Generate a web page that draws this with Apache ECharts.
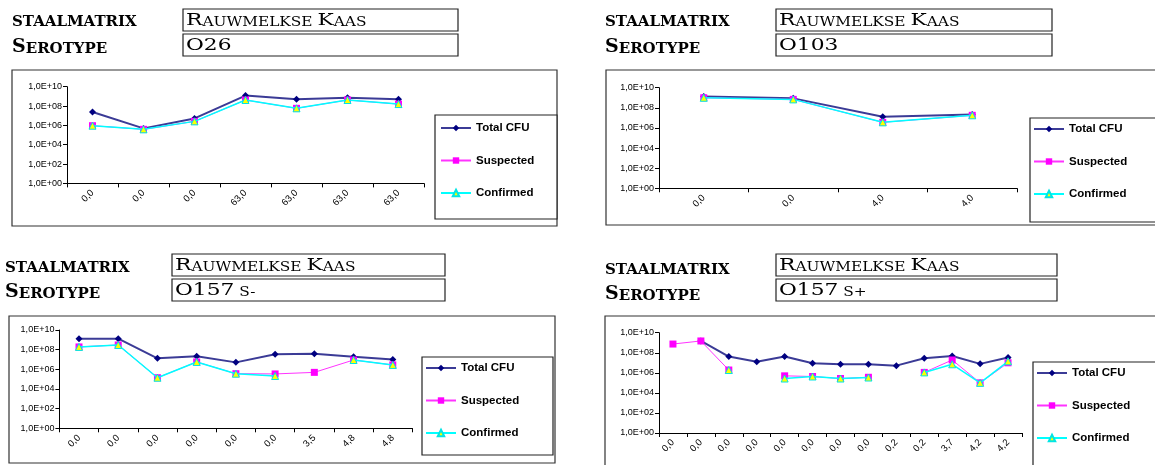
<!DOCTYPE html>
<html><head><meta charset="utf-8">
<script src="https://cdn.jsdelivr.net/npm/echarts@6/dist/echarts.min.js"></script>
<style>html,body{margin:0;padding:0;background:#fff}#c{width:1155px;height:465px}</style>
</head><body><div id="c"></div>
<script>
// ---------------- DATA ----------------
const SERIES_NAMES = ['Total CFU', 'Suspected', 'Confirmed'];
const LABEL_MATRIX = 'staalmatrix';
const LABEL_SEROTYPE = 'Serotype';
const MATRIX = 'Rauwmelkse Kaas';
const SEROTYPES = ['O26', 'O103', 'O157 s-', 'O157 s+'];
const Y_TICK_LABELS = ['1,0E+00', '1,0E+02', '1,0E+04', '1,0E+06', '1,0E+08', '1,0E+10'];

// Panel 1 – O26
const P1_CATS = ['0,0', '0,0', '0,0', '63,0', '63,0', '63,0', '63,0'];
const P1_TOTAL = [2.4e7, 4.9e5, 5.2e6, 1.2e9, 4.9e8, 7.2e8, 4.9e8];
const P1_SUSP = [9.3e5, 3.9e5, 2.6e6, 4.2e8, 5.8e7, 4.2e8, 1.6e8];
const P1_CONF = [9.3e5, 3.9e5, 2.6e6, 4.2e8, 5.8e7, 4.2e8, 1.6e8];

// Panel 2 – O103
const P2_CATS = ['0,0', '0,0', '4,0', '4,0'];
const P2_TOTAL = [1.3e9, 8.7e8, 1.3e7, 2.2e7];
const P2_SUSP = [1.0e9, 6.9e8, 3.6e6, 1.8e7];
const P2_CONF = [1.0e9, 6.9e8, 3.6e6, 1.8e7];

// Panel 3 – O157 s-
const P3_CATS = ['0,0', '0,0', '0,0', '0,0', '0,0', '0,0', '3,5', '4,8', '4,8'];
const P3_TOTAL = [1.3e9, 1.3e9, 1.3e7, 2.1e7, 5.1e6, 3.4e7, 3.9e7, 1.9e7, 1.0e7];
const P3_SUSP = [1.9e8, 3.0e8, 1.4e5, 5.6e6, 3.6e5, 3.4e5, 4.9e5, 8.9e6, 2.8e6];
const P3_CONF = [1.9e8, 3.0e8, 1.4e5, 5.6e6, 3.6e5, 2.1e5, null, 8.9e6, 2.8e6];

// Panel 4 – O157 s+
const P4_CATS = ['0,0', '0,0', '0,0', '0,0', '0,0', '0,0', '0,0', '0,0', '0,2', '0,2', '3,7', '4,2', '4,2'];
const P4_TOTAL = [null, 1.5e9, 4.2e7, 1.3e7, 4.2e7, 8.9e6, 7.1e6, 7.1e6, 5.2e6, 2.8e7, 4.8e7, 7.8e6, 3.3e7];
const P4_SUSP = [7.4e8, 1.5e9, 1.9e6, null, 5.0e5, 4.3e5, 2.7e5, 3.6e5, null, 1.1e6, 1.9e7, 1.0e5, 1.0e7];
const P4_CONF = [null, null, 1.9e6, null, 2.7e5, 4.3e5, 2.7e5, 3.4e5, null, 1.1e6, 7.1e6, 1.0e5, 1.4e7];

// ---------------- LAYOUT ----------------
const PANELS = [
  { cats: P1_CATS, data: [P1_TOTAL, P1_SUSP, P1_CONF], sero: SEROTYPES[0],
    lab: [12, 20, 46], box: [183, 9, 275, 22, 34], frame: [12, 70, 545, 156],
    grid: [67, 86.7, 357, 96.7], legBox: [435, 115, 122, 104], leg: [440, 128] },
  { cats: P2_CATS, data: [P2_TOTAL, P2_SUSP, P2_CONF], sero: SEROTYPES[1],
    lab: [605, 20, 46], box: [776, 9, 276, 22, 34], frame: [606, 70, 560, 155],
    grid: [659, 87.7, 358, 100.6], legBox: [1030, 118, 130, 104], leg: [1033, 129] },
  { cats: P3_CATS, data: [P3_TOTAL, P3_SUSP, P3_CONF], sero: SEROTYPES[2],
    lab: [5, 266, 291], box: [172, 254, 273, 22, 279], frame: [9, 316, 546, 147],
    grid: [59.4, 330, 353, 98.3], legBox: [422, 357, 131, 98], leg: [425, 368] },
  { cats: P4_CATS, data: [P4_TOTAL, P4_SUSP, P4_CONF], sero: SEROTYPES[3],
    lab: [605, 268, 293], box: [776, 254, 281, 22, 279], frame: [605, 316, 560, 160],
    grid: [659, 332.7, 363, 100.3], legBox: [1033, 362, 130, 110], leg: [1036, 373] }
];

// small-caps emulation: capitals/digits large, lowercase -> small capitals
function smallCaps(str) {
  let out = '', cur = null, buf = '';
  for (const ch of str) {
    const big = /[A-Z0-9]/.test(ch);
    const k = big ? 'b' : 's';
    if (k !== cur) { if (buf) out += '{' + cur + '|' + buf + '}'; buf = ''; cur = k; }
    buf += ch.toUpperCase();
  }
  if (buf) out += '{' + cur + '|' + buf + '}';
  return out;
}

const labelRich = {
  b: { fontFamily: 'DejaVu Serif', fontWeight: 'bold', fontSize: 19, fill: '#000', verticalAlign: 'bottom' },
  s: { fontFamily: 'DejaVu Serif', fontWeight: 'bold', fontSize: 15, fill: '#000', verticalAlign: 'bottom' }
};
const boxRich = {
  b: { fontFamily: 'DejaVu Serif', fontSize: 17, fill: '#000', verticalAlign: 'bottom' },
  s: { fontFamily: 'DejaVu Serif', fontSize: 12, fill: '#000', verticalAlign: 'bottom' }
};

const graphics = [];
PANELS.forEach(p => {
  graphics.push({ type: 'rect', silent: true, shape: { x: p.frame[0], y: p.frame[1], width: p.frame[2], height: p.frame[3] },
    style: { fill: 'none', stroke: '#333', lineWidth: 1.2 } });
  graphics.push({ type: 'rect', silent: true, shape: { x: p.legBox[0], y: p.legBox[1], width: p.legBox[2], height: p.legBox[3] },
    style: { fill: '#fff', stroke: '#222', lineWidth: 1.2 }, z: 1 });
  [p.box[1], p.box[4]].forEach(by => {
    graphics.push({ type: 'rect', silent: true, shape: { x: p.box[0], y: by, width: p.box[2], height: p.box[3] },
      style: { fill: 'none', stroke: '#222', lineWidth: 1.2 } });
  });
  graphics.push({ type: 'text', silent: true, x: p.lab[0], y: p.lab[1] + 10,
    style: { text: smallCaps(LABEL_MATRIX), rich: labelRich, verticalAlign: 'bottom' } });
  graphics.push({ type: 'text', silent: true, x: p.lab[0], y: p.lab[2] + 11,
    style: { text: smallCaps(LABEL_SEROTYPE), rich: labelRich, verticalAlign: 'bottom' } });
  graphics.push({ type: 'text', silent: true, x: p.box[0] + 3, y: p.box[1] + 20, scaleX: 1.28,
    style: { text: smallCaps(MATRIX), rich: boxRich, verticalAlign: 'bottom' } });
  graphics.push({ type: 'text', silent: true, x: p.box[0] + 3, y: p.box[4] + 20, scaleX: 1.28,
    style: { text: smallCaps(p.sero), rich: boxRich, verticalAlign: 'bottom' } });
});

const axisFont = 'Liberation Sans';
const option = {
  animation: false,
  backgroundColor: '#fff',
  graphic: { elements: graphics },
  grid: PANELS.map(p => ({ left: p.grid[0], top: p.grid[1], width: p.grid[2], height: p.grid[3] })),
  xAxis: PANELS.map((p, i) => ({
    type: 'category', gridIndex: i, data: p.cats, boundaryGap: true,
    axisLine: { show: true, lineStyle: { color: '#000', width: 1 } },
    axisTick: { show: true, length: 4, lineStyle: { color: '#000' } },
    splitLine: { show: false },
    axisLabel: { interval: 0, rotate: 45, fontSize: 9.5, fontFamily: axisFont, color: '#000', margin: 8 }
  })),
  yAxis: PANELS.map((p, i) => ({
    type: 'log', logBase: 10, gridIndex: i, min: 1, max: 1e10, interval: 2,
    axisLine: { show: true, lineStyle: { color: '#000', width: 1 } },
    axisTick: { show: true, length: 4, lineStyle: { color: '#000' } },
    splitLine: { show: false },
    axisLabel: { fontSize: 9, fontFamily: axisFont, color: '#000', margin: 5, showMinLabel: true, showMaxLabel: true,
      formatter: v => Y_TICK_LABELS[Math.round(Math.log10(v) / 2)] || '' }
  })),
  legend: PANELS.map(p => ({
    orient: 'vertical', left: p.leg[0], top: p.leg[1] - 6, padding: 0,
    itemWidth: 30, itemHeight: 8, itemGap: 20.5, selectedMode: false, z: 5,
    data: SERIES_NAMES,
    textStyle: { fontSize: 11.5, fontWeight: 'bold', fontFamily: axisFont, color: '#000' }
  })),
  series: []
};

PANELS.forEach((p, i) => {
  option.series.push({
    name: SERIES_NAMES[0], type: 'line', xAxisIndex: i, yAxisIndex: i, data: p.data[0],
    symbol: 'diamond', symbolSize: 7, showAllSymbol: true, connectNulls: false, z: 2,
    itemStyle: { color: '#000080' }, lineStyle: { color: '#3b3b96', width: 2 }
  });
  option.series.push({
    name: SERIES_NAMES[1], type: 'line', xAxisIndex: i, yAxisIndex: i, data: p.data[1],
    symbol: 'rect', symbolSize: 7, showAllSymbol: true, connectNulls: false, z: 3,
    itemStyle: { color: '#ff00ff' }, lineStyle: { color: '#ff33ff', width: 1 }
  });
  option.series.push({
    name: SERIES_NAMES[2], type: 'line', xAxisIndex: i, yAxisIndex: i, data: p.data[2],
    symbol: 'triangle', symbolSize: 7, showAllSymbol: true, connectNulls: false, z: 4,
    itemStyle: { color: '#ffff00', borderColor: '#00e5e5', borderWidth: 1 }, lineStyle: { color: '#00ffff', width: 1.5 }
  });
});

const chart = echarts.init(document.getElementById('c'), null, { renderer: 'canvas' });
chart.setOption(option);
</script>
</body></html>
